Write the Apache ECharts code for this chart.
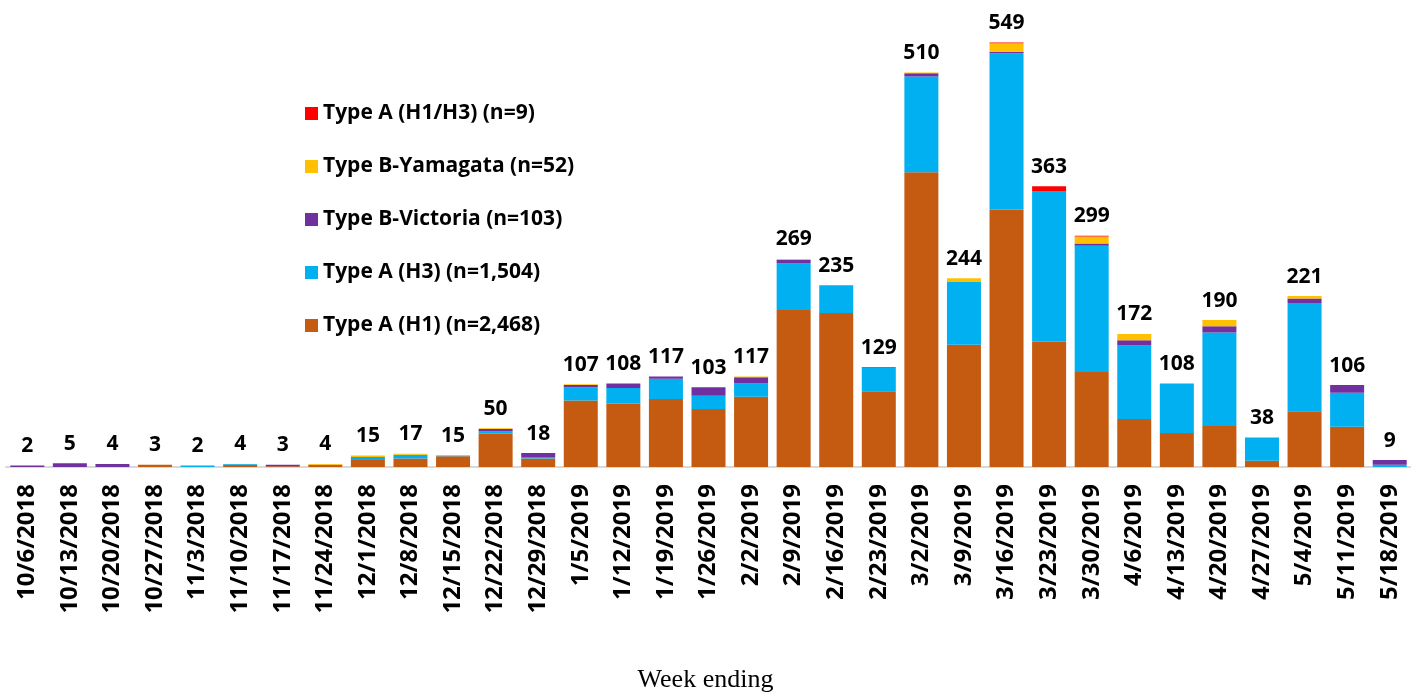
<!DOCTYPE html>
<html>
<head>
<meta charset="utf-8">
<script src="https://cdn.jsdelivr.net/npm/echarts@6/dist/echarts.min.js"></script>
<style>html,body{margin:0;padding:0;background:#fff;}#c{width:1411px;height:692px;}</style>
</head>
<body>
<div id="c"></div>
<script>
const weeks = ['10/6/2018','10/13/2018','10/20/2018','10/27/2018','11/3/2018','11/10/2018','11/17/2018','11/24/2018','12/1/2018','12/8/2018','12/15/2018','12/22/2018','12/29/2018','1/5/2019','1/12/2019','1/19/2019','1/26/2019','2/2/2019','2/9/2019','2/16/2019','2/23/2019','3/2/2019','3/9/2019','3/16/2019','3/23/2019','3/30/2019','4/6/2019','4/13/2019','4/20/2019','4/27/2019','5/4/2019','5/11/2019','5/18/2019'];
const h1 =        [0,0,0,3,0,3,1,3,9,11,14,43,11,86,82,88,75,91,203,199,98,381,158,333,162,123,62,44,53,8,72,52,0];
const h3 =        [0,0,0,0,2,1,0,0,4,5,1,3,2,17,20,26,17,17,60,36,30,124,82,202,195,163,95,64,121,30,140,44,3];
const victoria =  [2,5,4,0,0,0,2,0,0,0,0,3,5,3,6,3,11,8,5,0,0,4,0,2,0,3,7,0,8,0,6,10,6];
const yamagata =  [0,0,0,0,0,0,0,1,2,1,0,1,0,1,0,0,0,1,1,0,0,1,4,11,0,9,8,0,8,0,3,0,0];
const h1h3 =      [0,0,0,0,0,0,0,0,0,0,0,0,0,0,0,0,0,0,0,0,1,0,0,1,6,1,0,0,0,0,0,0,0];
const totals =    [2,5,4,3,2,4,3,4,15,17,15,50,18,107,108,117,103,117,269,235,129,510,244,549,363,299,172,108,190,38,221,106,9];
const names = ['Type A (H1) (n=2,468)','Type A (H3) (n=1,504)','Type B-Victoria (n=103)','Type B-Yamagata (n=52)','Type A (H1/H3) (n=9)'];
const colors = ['#C55A11','#00B0F0','#7030A0','#FFC000','#FF0000'];
const seriesData = [h1, h3, victoria, yamagata, h1h3];

const chart = echarts.init(document.getElementById('c'), null, {renderer:'canvas'});
const series = seriesData.map((d, i) => ({
  name: names[i], type: 'bar', stack: 's', data: d, barWidth: 34,
  itemStyle: {color: colors[i]}, emphasis: {disabled: true}
}));
series.push({
  name: 'Total', type: 'bar', stack: 's', data: totals.map(() => 0), barWidth: 34,
  itemStyle: {color: 'transparent'},
  label: {show: true, position: 'top', distance: 9, formatter: p => totals[p.dataIndex],
    fontFamily: 'Open Sans', fontWeight: 'bold', fontSize: 21, color: '#000'}
});
chart.setOption({
  animation: false,
  grid: {left: 6, top: 3, height: 464, width: 1412},
  legend: {
    orient: 'vertical', left: 300, top: 98, itemGap: 32, itemWidth: 13, itemHeight: 13,
    icon: 'rect',
    data: [names[4], names[3], names[2], names[1], names[0]],
    textStyle: {fontFamily: 'Open Sans', fontWeight: 'bold', fontSize: 21, color: '#000', lineHeight: 20}
  },
  xAxis: {
    type: 'category', data: weeks,
    axisLine: {lineStyle: {color: '#d9d9d9', width: 2}},
    axisTick: {show: false},
    axisLabel: {rotate: 90, interval: 0, margin: 17, fontFamily: 'Open Sans', fontWeight: 'bold', fontSize: 24, color: '#000'}
  },
  yAxis: {type: 'value', min: 0, max: 600, show: false, splitLine: {show: false}},
  graphic: [{
    type: 'text', left: 'center', top: 667,
    style: {text: 'Week ending', fontFamily: 'Liberation Serif', fontSize: 26, fill: '#000'}
  }],
  series: series
});
</script>
</body>
</html>
